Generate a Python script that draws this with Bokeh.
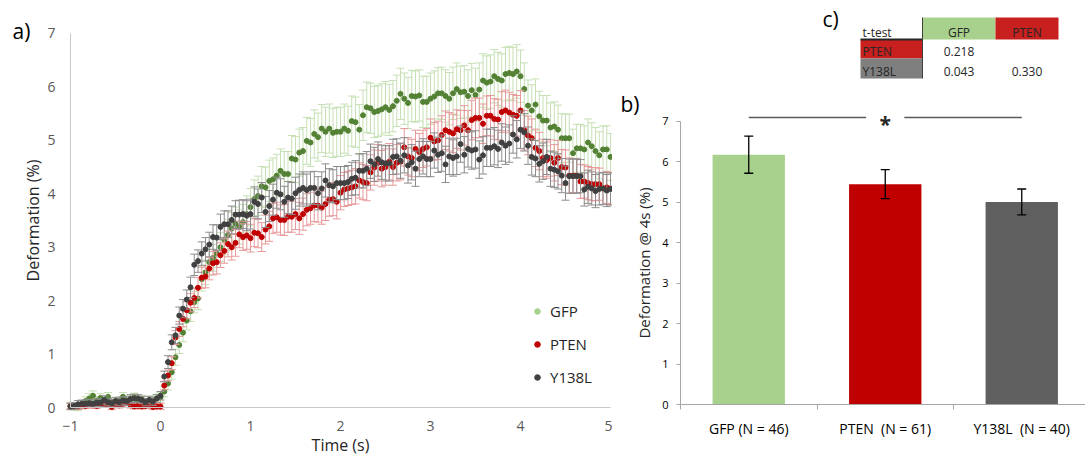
from bokeh.plotting import figure
from bokeh.layouts import row
from bokeh.models import ColumnDataSource, Range1d, FixedTicker, Label, Legend, LegendItem
from bokeh.embed import file_html
from bokeh.resources import INLINE
from bokeh.core.properties import value

FONT = "Open Sans"

# ---------------- panel a data ----------------
series_names = ["GFP", "PTEN", "Y138L"]
frame_rate = 24  # samples per second, first sample at t = -1 s

gfp_mean = [
    0.03, 0.02, 0.01, 0.05, 0.12, 0.17, 0.22, 0.13, 0.18, 0.12, 0.20, 0.10, 0.09, 0.13, 0.20, 0.13, 0.15, 0.19, 0.12, 0.16, 0.10, 0.14, 0.13, 0.17,
    0.19, 0.30, 0.45, 0.66, 0.94, 1.17, 1.40, 1.63, 1.80, 1.97, 2.04, 2.40, 2.53, 2.72, 2.80, 2.88, 3.00, 3.14, 3.23, 3.35, 3.44, 3.38, 3.47, 3.62,
    3.75, 3.90, 3.96, 4.14, 4.12, 4.24, 4.27, 4.34, 4.43, 4.37, 4.37, 4.66, 4.64, 4.77, 4.80, 4.99, 4.96, 5.12, 5.06, 5.22, 5.16, 5.22, 5.14, 5.16,
    5.16, 5.22, 5.18, 5.36, 5.34, 5.20, 5.47, 5.62, 5.60, 5.53, 5.55, 5.58, 5.62, 5.57, 5.64, 5.74, 5.87, 5.78, 5.70, 5.83, 5.82, 5.84, 5.72, 5.72,
    5.78, 5.82, 5.88, 5.88, 5.83, 5.78, 5.88, 5.96, 5.90, 5.91, 5.83, 5.94, 5.85, 5.95, 6.12, 6.08, 6.10, 6.20, 6.15, 6.12, 6.24, 6.26, 6.24, 6.29,
    6.20, 5.96, 5.65, 5.56, 5.67, 5.45, 5.37, 5.37, 5.24, 5.26, 5.20, 5.04, 5.04, 5.04, 4.76, 4.85, 4.85, 4.83, 4.96, 4.89, 4.80, 4.72, 4.83, 4.83, 4.69,
]
gfp_err = [
    0.07, 0.07, 0.07, 0.08, 0.08, 0.09, 0.09, 0.08, 0.08, 0.08, 0.08, 0.07, 0.07, 0.07, 0.08, 0.08, 0.08, 0.08, 0.07, 0.07, 0.07, 0.07, 0.08, 0.08,
    0.09, 0.10, 0.12, 0.13, 0.15, 0.16, 0.17, 0.18, 0.19, 0.20, 0.21, 0.22, 0.23, 0.24, 0.25, 0.26, 0.27, 0.28, 0.29, 0.30, 0.31, 0.32, 0.33, 0.34,
    0.35, 0.36, 0.37, 0.37, 0.38, 0.39, 0.40, 0.40, 0.41, 0.42, 0.42, 0.43, 0.43, 0.44, 0.44, 0.44, 0.45, 0.45, 0.45, 0.45, 0.46, 0.46, 0.46, 0.46,
    0.46, 0.46, 0.46, 0.47, 0.47, 0.47, 0.47, 0.47, 0.47, 0.48, 0.48, 0.48, 0.48, 0.48, 0.48, 0.48, 0.48, 0.48, 0.48, 0.48, 0.48, 0.48, 0.48, 0.48,
    0.48, 0.48, 0.48, 0.49, 0.49, 0.49, 0.49, 0.49, 0.49, 0.49, 0.49, 0.50, 0.50, 0.50, 0.50, 0.50, 0.50, 0.50, 0.50, 0.50, 0.50, 0.50, 0.50, 0.50,
    0.49, 0.49, 0.48, 0.48, 0.48, 0.47, 0.47, 0.47, 0.46, 0.46, 0.46, 0.46, 0.45, 0.45, 0.45, 0.45, 0.45, 0.44, 0.44, 0.44, 0.44, 0.44, 0.44, 0.44, 0.44,
]
pten_mean = [
    0.03, 0.02, 0.02, 0.04, 0.03, 0.05, 0.04, 0.03, 0.05, 0.06, 0.06, 0.01, 0.05, 0.04, 0.07, 0.10, 0.04, 0.02, 0.03, 0.02, 0.03, 0.04, 0.01, 0.02,
    0.02, 0.41, 0.60, 0.83, 1.31, 1.47, 1.66, 1.82, 1.96, 2.05, 2.24, 2.43, 2.45, 2.60, 2.70, 2.72, 2.85, 2.93, 3.06, 3.00, 3.08, 3.24, 3.19, 3.22,
    3.17, 3.27, 3.26, 3.19, 3.33, 3.39, 3.54, 3.56, 3.51, 3.51, 3.57, 3.57, 3.62, 3.54, 3.62, 3.70, 3.73, 3.78, 3.78, 3.74, 3.81, 3.89, 3.90, 3.85,
    4.02, 4.08, 4.10, 4.12, 4.14, 4.25, 4.22, 4.20, 4.40, 4.49, 4.58, 4.47, 4.50, 4.60, 4.50, 4.58, 4.60, 4.87, 4.70, 4.67, 4.84, 4.78, 4.84, 4.87,
    5.05, 4.98, 5.00, 5.10, 5.19, 5.16, 5.13, 5.21, 5.19, 5.28, 5.19, 5.38, 5.42, 5.42, 5.31, 5.46, 5.46, 5.40, 5.39, 5.53, 5.56, 5.52, 5.48, 5.46,
    5.56, 5.19, 5.09, 5.04, 4.86, 4.80, 4.67, 4.63, 4.67, 4.58, 4.67, 4.50, 4.49, 4.34, 4.34, 4.34, 4.23, 4.23, 4.20, 4.18, 4.18, 4.18, 4.10, 4.12, 4.10,
]
pten_err = [
    0.05, 0.05, 0.06, 0.05, 0.05, 0.06, 0.05, 0.05, 0.05, 0.06, 0.05, 0.05, 0.05, 0.05, 0.06, 0.05, 0.05, 0.05, 0.05, 0.05, 0.05, 0.05, 0.05, 0.05,
    0.06, 0.08, 0.10, 0.12, 0.13, 0.14, 0.15, 0.16, 0.17, 0.18, 0.19, 0.20, 0.21, 0.21, 0.22, 0.22, 0.23, 0.23, 0.24, 0.24, 0.25, 0.25, 0.25, 0.26,
    0.26, 0.26, 0.27, 0.27, 0.27, 0.28, 0.28, 0.28, 0.28, 0.29, 0.29, 0.29, 0.29, 0.30, 0.30, 0.30, 0.30, 0.30, 0.31, 0.31, 0.31, 0.31, 0.31, 0.32,
    0.32, 0.32, 0.32, 0.32, 0.33, 0.33, 0.33, 0.33, 0.33, 0.33, 0.34, 0.34, 0.34, 0.34, 0.34, 0.34, 0.34, 0.35, 0.35, 0.35, 0.35, 0.35, 0.35, 0.35,
    0.35, 0.35, 0.36, 0.36, 0.36, 0.36, 0.36, 0.36, 0.37, 0.37, 0.37, 0.37, 0.37, 0.37, 0.37, 0.37, 0.38, 0.38, 0.38, 0.38, 0.38, 0.38, 0.38, 0.38,
    0.37, 0.37, 0.36, 0.36, 0.35, 0.35, 0.35, 0.34, 0.34, 0.34, 0.33, 0.33, 0.33, 0.33, 0.32, 0.32, 0.32, 0.31, 0.31, 0.31, 0.31, 0.30, 0.30, 0.30, 0.30,
]
y138l_mean = [
    0.02, 0.03, 0.06, 0.07, 0.07, 0.08, 0.07, 0.09, 0.09, 0.14, 0.10, 0.08, 0.12, 0.10, 0.13, 0.12, 0.16, 0.17, 0.17, 0.14, 0.10, 0.14, 0.11, 0.17,
    0.22, 0.58, 0.85, 1.22, 1.35, 1.72, 1.85, 2.02, 2.25, 2.67, 2.74, 2.88, 2.96, 3.05, 3.19, 3.18, 3.38, 3.43, 3.43, 3.51, 3.61, 3.61, 3.62, 3.59,
    3.62, 3.85, 3.81, 3.93, 3.66, 3.77, 3.89, 4.02, 3.99, 3.85, 3.93, 3.91, 4.01, 4.07, 4.11, 4.07, 4.11, 4.11, 4.01, 4.10, 4.25, 4.16, 4.14, 4.20,
    4.20, 4.20, 4.22, 4.28, 4.30, 4.43, 4.43, 4.47, 4.61, 4.55, 4.65, 4.59, 4.57, 4.57, 4.69, 4.70, 4.62, 4.72, 4.53, 4.59, 4.47, 4.65, 4.70, 4.65,
    4.65, 4.81, 4.73, 4.76, 4.55, 4.70, 4.67, 4.70, 4.93, 4.73, 4.84, 4.81, 4.83, 4.64, 4.72, 4.86, 4.86, 4.89, 4.84, 4.96, 4.90, 4.94, 5.11, 5.02,
    5.20, 5.15, 4.90, 4.69, 4.66, 4.56, 4.61, 4.69, 4.47, 4.45, 4.42, 4.34, 4.20, 4.33, 4.33, 4.33, 4.33, 4.08, 4.13, 4.10, 4.05, 4.09, 4.10, 4.06, 4.09,
]
y138l_err = [
    0.06, 0.06, 0.07, 0.07, 0.07, 0.07, 0.07, 0.07, 0.07, 0.08, 0.07, 0.07, 0.07, 0.07, 0.07, 0.08, 0.08, 0.08, 0.07, 0.07, 0.07, 0.07, 0.07, 0.07,
    0.08, 0.10, 0.12, 0.14, 0.15, 0.16, 0.17, 0.18, 0.19, 0.20, 0.21, 0.22, 0.22, 0.23, 0.23, 0.24, 0.24, 0.25, 0.25, 0.26, 0.26, 0.27, 0.27, 0.28,
    0.28, 0.28, 0.28, 0.28, 0.29, 0.29, 0.29, 0.29, 0.29, 0.29, 0.30, 0.30, 0.30, 0.30, 0.30, 0.30, 0.30, 0.31, 0.31, 0.31, 0.31, 0.31, 0.31, 0.31,
    0.31, 0.31, 0.31, 0.31, 0.32, 0.32, 0.32, 0.32, 0.32, 0.32, 0.32, 0.32, 0.33, 0.33, 0.33, 0.33, 0.33, 0.33, 0.33, 0.33, 0.33, 0.33, 0.33, 0.33,
    0.33, 0.33, 0.33, 0.34, 0.34, 0.34, 0.34, 0.34, 0.34, 0.34, 0.34, 0.35, 0.35, 0.35, 0.35, 0.35, 0.35, 0.35, 0.35, 0.35, 0.35, 0.35, 0.35, 0.35,
    0.35, 0.35, 0.35, 0.34, 0.34, 0.34, 0.34, 0.33, 0.33, 0.33, 0.33, 0.32, 0.32, 0.32, 0.32, 0.32, 0.31, 0.31, 0.31, 0.31, 0.31, 0.30, 0.30, 0.30, 0.30,
]
time_ticks = [-1, 0, 1, 2, 3, 4, 5]
deform_ticks_a = [0, 1, 2, 3, 4, 5, 6, 7]

# ---------------- panel b data ----------------
bar_categories = ["GFP (N = 46)", "PTEN  (N = 61)", "Y138L  (N = 40)"]
bar_means = [6.18, 5.45, 5.01]
bar_sem = [0.46, 0.36, 0.32]
deform_ticks_b = [0, 1, 2, 3, 4, 5, 6, 7]
signif_level = 7.1

# ---------------- panel c data ----------------
ttest_cols = ["GFP", "PTEN"]
ttest_rows = ["PTEN", "Y138L"]
ttest_p = [[0.218, None], [0.043, 0.330]]

# ---------------- styles / layout ----------------
point_colors = ["#548235", "#c00000", "#404040"]
err_colors = ["#c5e0b4", "#e8999a", "#8c8c8c"]
legend_colors = ["#a9d18e", "#c00000", "#404040"]
bar_colors = ["#a9d18e", "#c00000", "#5f5f5f"]
TXT = "#262626"
W_A, W_B, H = 612, 473, 459

# panel a pixel geometry (page pixels)
A_X0_PX, A_PX_PER_S = 70, 90.0      # where t = -1 sits, px per second
A_Y0_PX, A_PX_PER_UNIT = 407, 53.43  # where 0 % sits, px per %
# panel b pixel geometry
B_X0_PX, B_PX_PER_CAT = 680, 136.5
B_Y0_PX, B_PX_PER_UNIT = 404, 40.43

# ================= panel a =================
time = [time_ticks[0] + k / frame_rate for k in range(len(gfp_mean))]

xa0 = time_ticks[0] - A_X0_PX / A_PX_PER_S
xa1 = time_ticks[0] + (W_A - A_X0_PX) / A_PX_PER_S
ya0 = -(H - A_Y0_PX) / A_PX_PER_UNIT
ya1 = A_Y0_PX / A_PX_PER_UNIT

pa = figure(width=W_A, height=H, x_range=Range1d(xa0, xa1), y_range=Range1d(ya0, ya1),
            title=None, output_backend="svg", toolbar_location=None,
            min_border_left=0, min_border_right=0, min_border_top=0, min_border_bottom=0)
pa.outline_line_color = None
pa.grid.visible = False

for means, errs, pc, ec in zip([gfp_mean, pten_mean, y138l_mean],
                               [gfp_err, pten_err, y138l_err],
                               point_colors, err_colors):
    src = ColumnDataSource(dict(
        t=time, m=means,
        lo=[m - e for m, e in zip(means, errs)],
        hi=[m + e for m, e in zip(means, errs)],
    ))
    pa.segment(x0="t", y0="lo", x1="t", y1="hi", source=src, line_color=ec, line_width=1)
    pa.scatter(x="t", y="hi", marker="dash", size=8, line_color=ec, line_width=1, source=src)
    pa.scatter(x="t", y="lo", marker="dash", size=8, line_color=ec, line_width=1, source=src)
    pa.scatter(x="t", y="m", marker="circle", size=5, fill_color=pc, line_color=pc, source=src)

for ax in (pa.xaxis[0], pa.yaxis[0]):
    ax.axis_line_color = "#c8c8c8"
    ax.major_tick_out = 0
    ax.major_tick_in = 0
    ax.minor_tick_out = 0
    ax.minor_tick_in = 0
    ax.major_label_text_font = FONT
    ax.major_label_text_font_size = "14px"
    ax.major_label_text_color = "#595959"
    ax.axis_label_text_font = FONT
    ax.axis_label_text_font_size = "16px"
    ax.axis_label_text_font_style = "normal"
    ax.axis_label_text_color = TXT
pa.xaxis.fixed_location = deform_ticks_a[0]
pa.yaxis.fixed_location = time_ticks[0]
pa.xaxis.bounds = (time_ticks[0], time_ticks[-1])
pa.yaxis.bounds = (deform_ticks_a[0], deform_ticks_a[-1])
pa.xaxis.ticker = FixedTicker(ticks=time_ticks)
pa.yaxis.ticker = FixedTicker(ticks=deform_ticks_a)
pa.xaxis.major_label_standoff = 13
pa.yaxis.major_label_standoff = 15
pa.xaxis.axis_label = "Time (s)"
pa.xaxis.axis_label_standoff = 0
pa.yaxis.axis_label = "Deformation (%)"
pa.yaxis.axis_label_standoff = 0

pa.add_layout(Label(x=12, y=H - 30, x_units="screen", y_units="screen", text="a)",
                    text_align="left", text_baseline="middle",
                    text_font=FONT, text_font_size="21px", text_color="#000000"))

nan = float("nan")
legend_items = []
for name, c in zip(series_names, legend_colors):
    r = pa.scatter(x=[nan], y=[nan], marker="circle", size=9, fill_color=c, line_color=c)
    legend_items.append(LegendItem(label=name, renderers=[r]))
legend = Legend(items=legend_items, location=(530, H - 387), orientation="vertical",
                glyph_width=14, glyph_height=20, label_height=20, spacing=13,
                padding=0, margin=0, label_standoff=6,
                border_line_color=None, background_fill_alpha=0,
                label_text_font=FONT, label_text_font_size="15px", label_text_color=TXT)
pa.add_layout(legend)

# ================= panel b (+ table c) =================
def bx(px):  # page px -> panel b x data
    return (px - B_X0_PX) / B_PX_PER_CAT

def by(py):  # page px -> panel b y data
    return (B_Y0_PX - py) / B_PX_PER_UNIT

cat_x = [i + 0.5 for i in range(len(bar_categories))]
cat_edges = [i for i in range(len(bar_categories) + 1)]

xb0, xb1 = bx(W_A), bx(W_A + W_B)
yb0, yb1 = by(H), by(0)

pb = figure(width=W_B, height=H, x_range=Range1d(xb0, xb1), y_range=Range1d(yb0, yb1),
            title=None, output_backend="svg", toolbar_location=None,
            min_border_left=0, min_border_right=0, min_border_top=0, min_border_bottom=0)
pb.outline_line_color = None
pb.grid.visible = False

bsrc = ColumnDataSource(dict(
    x=cat_x, top=bar_means, color=bar_colors,
    lo=[m - s for m, s in zip(bar_means, bar_sem)],
    hi=[m + s for m, s in zip(bar_means, bar_sem)],
))
pb.vbar(x="x", top="top", width=0.53, bottom=0, fill_color="color", line_color=None, source=bsrc)
pb.segment(x0="x", y0="lo", x1="x", y1="hi", line_color="#000000", line_width=1.3, source=bsrc)
pb.scatter(x="x", y="hi", marker="dash", size=9, line_color="#000000", line_width=1.3, source=bsrc)
pb.scatter(x="x", y="lo", marker="dash", size=9, line_color="#000000", line_width=1.3, source=bsrc)

gap = 0.14
pb.segment(x0=[cat_x[0], cat_x[1] + gap], y0=[signif_level, signif_level],
           x1=[cat_x[1] - gap, cat_x[2]], y1=[signif_level, signif_level],
           line_color="#595959", line_width=1.4)
pb.text(x=[cat_x[1]], y=[signif_level], text=["*"], text_align="center", text_baseline="middle",
        y_offset=7, text_font=value(FONT), text_font_size="21px", text_font_style="bold",
        text_color=TXT)

pb.yaxis.fixed_location = 0
pb.xaxis.fixed_location = 0
pb.yaxis.bounds = (deform_ticks_b[0], deform_ticks_b[-1])
pb.xaxis.bounds = (0, xb1)
pb.yaxis.ticker = FixedTicker(ticks=deform_ticks_b)
pb.yaxis.major_tick_out = 4
pb.yaxis.major_tick_in = 0
pb.yaxis.minor_tick_out = 0
pb.yaxis.minor_tick_in = 0
pb.yaxis.major_label_standoff = 8
pb.yaxis.axis_label = "Deformation @ 4s (%)"
pb.yaxis.axis_label_text_font = FONT
pb.yaxis.axis_label_text_font_size = "15px"
pb.yaxis.axis_label_text_font_style = "normal"
pb.yaxis.axis_label_text_color = TXT
pb.yaxis.axis_label_standoff = 5

pb.xaxis.ticker = FixedTicker(ticks=cat_x, minor_ticks=cat_edges)
# keep the doubled spaces visible in SVG text
pb.xaxis.major_label_overrides = {x: c.replace("  ", "\u00a0 ") for x, c in zip(cat_x, bar_categories)}
pb.xaxis.major_tick_out = 0
pb.xaxis.major_tick_in = 0
pb.xaxis.minor_tick_out = 5
pb.xaxis.minor_tick_in = 0
pb.xaxis.major_label_standoff = 9

for ax in (pb.xaxis[0], pb.yaxis[0]):
    ax.axis_line_color = "#a6a6a6"
    ax.major_tick_line_color = "#a6a6a6"
    ax.minor_tick_line_color = "#a6a6a6"
    ax.major_label_text_font = FONT
    ax.major_label_text_color = "#000000"
pb.yaxis.major_label_text_font_size = "11px"
pb.xaxis.major_label_text_font_size = "14px"

pb.add_layout(Label(x=620 - W_A, y=H - 103, x_units="screen", y_units="screen", text="b)",
                    text_align="left", text_baseline="middle",
                    text_font=FONT, text_font_size="21px", text_color="#000000"))
pb.add_layout(Label(x=822 - W_A, y=H - 18, x_units="screen", y_units="screen", text="c)",
                    text_align="left", text_baseline="middle",
                    text_font=FONT, text_font_size="21px", text_color="#000000"))

# --- t-test table (page-pixel layout converted to panel-b coordinates) ---
col_edges = [bx(px) for px in (860, 922, 995, 1058)]
row_edges = [by(py) for py in (17, 39, 58, 78)]
text_drop = 7 / B_PX_PER_UNIT  # text centre sits 7 px above each row's bottom edge
header_colors = ["#a9d18e", "#c8201e"]
rowlabel_colors = ["#c8201e", "#7f7f7f"]

ql, qr, qt, qb, qc = [], [], [], [], []
for j, c in enumerate(ttest_cols):
    ql.append(col_edges[j + 1]); qr.append(col_edges[j + 2])
    qt.append(row_edges[0]); qb.append(row_edges[1]); qc.append(header_colors[j])
for i, r in enumerate(ttest_rows):
    ql.append(col_edges[0]); qr.append(col_edges[1])
    qt.append(row_edges[i + 1]); qb.append(row_edges[i + 2]); qc.append(rowlabel_colors[i])
pb.quad(left=ql, right=qr, top=qt, bottom=qb, fill_color=qc, line_color=None)

pb.segment(x0=[col_edges[0]], y0=[row_edges[1]], x1=[col_edges[1]], y1=[row_edges[1]],
           line_color="#262626", line_width=2)
pb.segment(x0=[col_edges[1]], y0=[row_edges[0]], x1=[col_edges[1]], y1=[row_edges[-1]],
           line_color="#404040", line_width=1)

lt_x = [col_edges[0]] * (1 + len(ttest_rows))
lt_y = [row_edges[1] + text_drop] + [row_edges[i + 2] + text_drop for i in range(len(ttest_rows))]
lt_t = ["t-test"] + ttest_rows
pb.text(x=lt_x, y=lt_y, text=lt_t, text_align="left", text_baseline="middle", x_offset=2,
        text_font=value(FONT), text_font_size="12px", text_color=TXT)

ct_x, ct_y, ct_t = [], [], []
for j, c in enumerate(ttest_cols):
    ct_x.append((col_edges[j + 1] + col_edges[j + 2]) / 2)
    ct_y.append(row_edges[1] + text_drop)
    ct_t.append(c)
for i, r in enumerate(ttest_rows):
    for j, c in enumerate(ttest_cols):
        p = ttest_p[i][j]
        if p is None:
            continue
        ct_x.append((col_edges[j + 1] + col_edges[j + 2]) / 2)
        ct_y.append(row_edges[i + 2] + text_drop)
        ct_t.append(f"{p:.3f}")
pb.text(x=ct_x, y=ct_y, text=ct_t, text_align="center", text_baseline="middle",
        text_font=value(FONT), text_font_size="12px", text_color=TXT)

layout = row(pa, pb)
open("out.html", "w").write(file_html(layout, INLINE, title="Deformation"))
